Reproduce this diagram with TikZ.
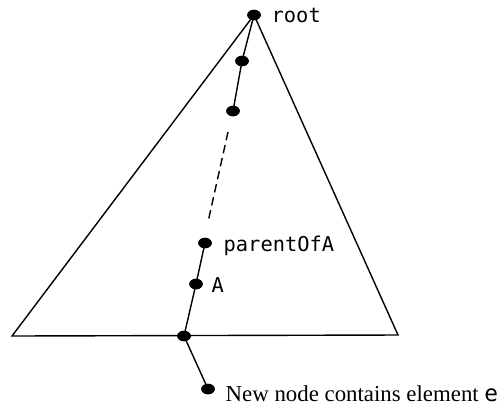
\documentclass[tikz,border=0pt]{standalone}
\usepackage{fontspec}
\setmainfont{Liberation Serif}
\setmonofont{DejaVu Sans Mono}
\usetikzlibrary{shapes.geometric}
\begin{document}
\begin{tikzpicture}[x=0.02cm,y=-0.02cm,
  line width=0.8pt,
  dot/.style={shape=ellipse,fill=black,draw=none,inner sep=0pt,minimum width=0.27cm,minimum height=0.21cm},
  mono/.style={font=\fontsize{11.6pt}{13pt}\ttfamily,inner sep=0pt,anchor=base west},
  serif/.style={font=\fontsize{13pt}{15pt}\rmfamily,inner sep=0pt,anchor=base west},
  dashpart/.style={dash pattern=on 4.8pt off 2.8pt}]
\useasboundingbox (0,0) rectangle (500,407);
% path nodes
\node[dot] (root) at (254,15) {};
\node[dot] (n1) at (242,61) {};
\node[dot] (n2) at (233,111) {};
\node[dot] (pa) at (205,243) {};
\node[dot] (a) at (196,284) {};
\node[dot] (b) at (184,336) {};
\node[dot] (nn) at (208,389) {};
% triangle
\coordinate (bl) at (12,336);
\coordinate (br) at (398,335);
\draw (root.center) -- (bl) -- (br) -- cycle;
% connectors
\coordinate (d1) at (228,132);
\coordinate (d2) at (208,222);
\draw (root.center) -- (n1.center) -- (n2.center);
\draw[dashpart] (d1) -- (d2);
\draw (pa.center) -- (a.center) -- (b.center) -- (nn.center);
% dots on top of the lines
\foreach \p in {root,n1,n2,pa,a,b,nn}{\fill (\p.center) ellipse [x radius=0.135cm, y radius=0.105cm];}
% labels
\node[mono] (lroot) at (271,22) {root};
\node[mono] (lpa) at (223,251) {parentOfA};
\node[mono] (la) at (211,292) {A};
\node[serif] (lnn) at (225,401) {New node contains element \texttt{e}};
\end{tikzpicture}
\end{document}
